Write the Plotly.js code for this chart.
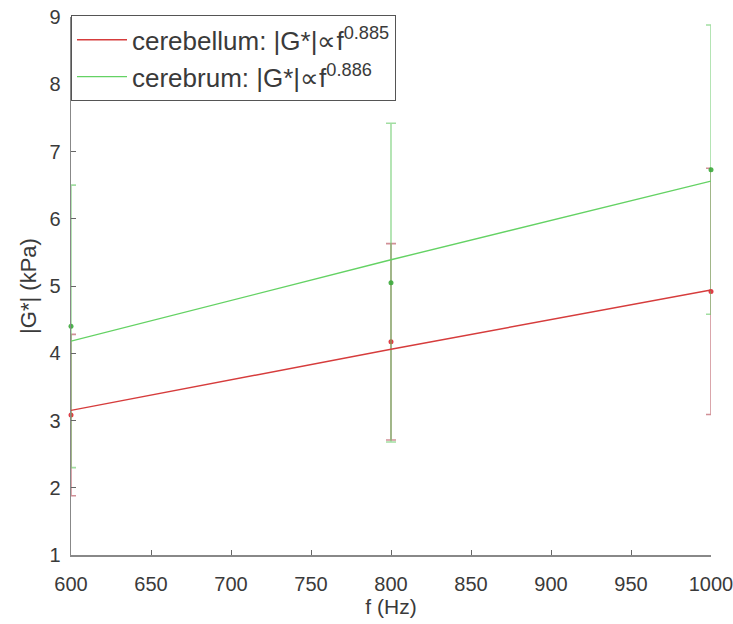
<!DOCTYPE html>
<html>
<head>
<meta charset="utf-8">
<script src="https://cdn.plot.ly/plotly-3.0.1.min.js"></script>
<style>html,body{margin:0;padding:0;background:#fff;}#chart{width:733px;height:624px;}</style>
</head>
<body>
<div id="chart"></div>
<script>
// Data
const freq = [600, 800, 1000];
const cerebellumMean = [3.08, 4.17, 4.92];
const cerebellumErr  = [1.20, 1.46, 1.83];
const cerebrumMean   = [4.40, 5.05, 6.73];
const cerebrumErr    = [2.10, 2.37, 2.15];
const cerebellumFit  = [3.15, 4.06, 4.94];
const cerebrumFit    = [4.18, 5.39, 6.56];
const legendNames = ['cerebellum: |G*|\u221Df<sup>0.885</sup>', 'cerebrum: |G*|\u221Df<sup>0.886</sup>'];
const xTicks = [600, 650, 700, 750, 800, 850, 900, 950, 1000];
const yTicks = [1, 2, 3, 4, 5, 6, 7, 8, 9];

const red = 'rgb(214,60,60)';
const green = 'rgb(100,210,100)';
const narrow = 'Liberation Sans Narrow, Arial Narrow, sans-serif';

const traces = [
  {x: freq, y: cerebellumMean, type: 'scatter', mode: 'markers', showlegend: false, cliponaxis: false,
   marker: {color: 'rgba(220,40,50,0.9)', size: 5},
   error_y: {type: 'data', array: cerebellumErr, visible: true, color: 'rgba(185,85,95,0.65)', thickness: 1.6, width: 5}},
  {x: freq, y: cerebrumMean, type: 'scatter', mode: 'markers', showlegend: false, cliponaxis: false,
   marker: {color: 'rgba(60,170,60,0.9)', size: 5},
   error_y: {type: 'data', array: cerebrumErr, visible: true, color: 'rgba(100,200,100,0.6)', thickness: 1.6, width: 5}},
  {x: freq, y: cerebellumFit, type: 'scatter', mode: 'lines', name: legendNames[0], cliponaxis: false,
   line: {color: red, width: 1.4}},
  {x: freq, y: cerebrumFit, type: 'scatter', mode: 'lines', name: legendNames[1], cliponaxis: false,
   line: {color: green, width: 1.4}}
];

const tickFont = {family: narrow, size: 20, color: '#3a3a3a'};

const layout = {
  width: 733, height: 624,
  margin: {l: 71, r: 22, t: 17, b: 69},
  paper_bgcolor: '#fff', plot_bgcolor: '#fff',
  font: tickFont,
  showlegend: true,
  legend: {x: 0, y: 1.003, xanchor: 'left', yanchor: 'top', bgcolor: '#fff',
           bordercolor: '#555', borderwidth: 1, itemwidth: 50,
           entrywidth: 340, entrywidthmode: 'pixels',
           font: {family: narrow, size: 26, color: '#3a3a3a'},
           tracegroupgap: 0},
  xaxis: {range: [600, 1000], tickvals: xTicks, ticktext: xTicks.map(String),
          showgrid: false, zeroline: false, showline: true, linecolor: '#888', linewidth: 1.5,
          ticks: 'inside', ticklen: 5, tickcolor: '#666', tickfont: tickFont,
          ticklabelstandoff: 10, ticklabeloverflow: 'allow',
          title: {text: 'f (Hz)', font: {family: narrow, size: 21, color: '#3a3a3a'}, standoff: 6}},
  yaxis: {range: [1, 9], tickvals: yTicks, ticktext: yTicks.map(String),
          showgrid: false, zeroline: false, showline: true, linecolor: '#888', linewidth: 1.5,
          ticks: 'inside', ticklen: 5, tickcolor: '#666', tickfont: tickFont,
          ticklabelstandoff: 5, ticklabeloverflow: 'allow',
          title: {text: '|G*| (kPa)', font: {family: 'Liberation Sans, Arial, sans-serif', size: 22, color: '#3a3a3a'}, standoff: 6}}
};

Plotly.newPlot('chart', traces, layout, {displayModeBar: false, staticPlot: true});
</script>
</body>
</html>
